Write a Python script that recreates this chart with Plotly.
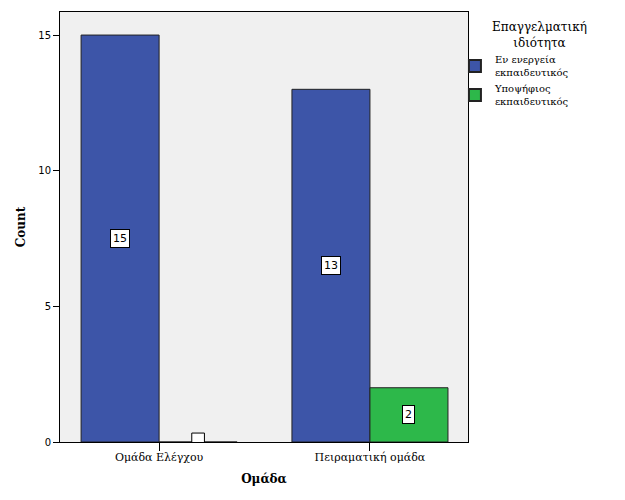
import plotly.graph_objects as go

categories = ["Ομάδα Ελέγχου", "Πειραματική ομάδα"]
series_names = ["Εν ενεργεία<br>εκπαιδευτικός", "Υποψήφιος<br>εκπαιδευτικός"]
active_counts = [15, 13]
candidate_counts = [0, 2]
colors = ["#3d55a8", "#2db84a"]
y_ticks = [0, 5, 10, 15]
legend_title = "Επαγγελματική<br>ιδιότητα"

fig = go.Figure()
for name, vals, col, off in [(series_names[0], active_counts, colors[0], -0.185),
                             (series_names[1], candidate_counts, colors[1], 0.185)]:
    fig.add_trace(go.Bar(
        x=categories, y=vals, name=name,
        marker=dict(color=col, line=dict(color="#222222", width=1)),
    ))
    for i, v in enumerate(vals):
        if v == 0:
            # zero-count label box, clipped by the axis like in the original
            fig.add_shape(type="rect", xref="x", yref="y",
                          x0=i + off - 0.03, x1=i + off + 0.03, y0=-0.33, y1=0.33,
                          fillcolor="white", line=dict(color="black", width=1))
        else:
            fig.add_annotation(
                x=i + off, y=v / 2, xref="x", yref="y",
                text=str(v), showarrow=False,
                font=dict(family="DejaVu Sans", size=11, color="black"),
                bgcolor="white", bordercolor="black", borderwidth=1, borderpad=2,
            )

fig.add_annotation(
    x=1.176, y=0.947, xref="paper", yref="paper", xanchor="center", yanchor="middle",
    text=legend_title, showarrow=False, align="center",
    font=dict(family="DejaVu Serif", size=12, color="black"),
)

fig.update_layout(
    width=625, height=500,
    margin=dict(l=60, r=157, t=12, b=58),
    paper_bgcolor="white", plot_bgcolor="#f0f0f0",
    barmode="group", bargap=0.26, bargroupgap=0,
    font=dict(family="DejaVu Sans", size=10, color="black"),
    showlegend=True,
    legend=dict(
        x=0.968, xanchor="left", y=0.92, yanchor="top",
        font=dict(family="DejaVu Serif", size=10),
        itemsizing="constant", tracegroupgap=0,
        bgcolor="rgba(0,0,0,0)",
    ),
)
fig.update_xaxes(
    type="category", range=[-0.47, 1.465], automargin=False,
    showline=True, linecolor="black", linewidth=1, mirror=True,
    ticks="outside", ticklen=8, tickcolor="black", ticklabelstandoff=-3,
    tickfont=dict(family="DejaVu Serif", size=11),
    title=dict(text="<b>Ομάδα</b>", font=dict(family="DejaVu Serif", size=12), standoff=11),
    showgrid=False,
)
fig.update_yaxes(
    range=[0, 15.85], tickvals=y_ticks, automargin=False,
    showline=True, linecolor="black", linewidth=1, mirror=True,
    ticks="outside", ticklen=6, tickcolor="black",
    tickfont=dict(family="DejaVu Sans", size=10),
    title=dict(text="<b>Count</b>", font=dict(family="DejaVu Serif", size=12), standoff=10),
    showgrid=False, zeroline=False,
)
fig.write_html("out.html")
